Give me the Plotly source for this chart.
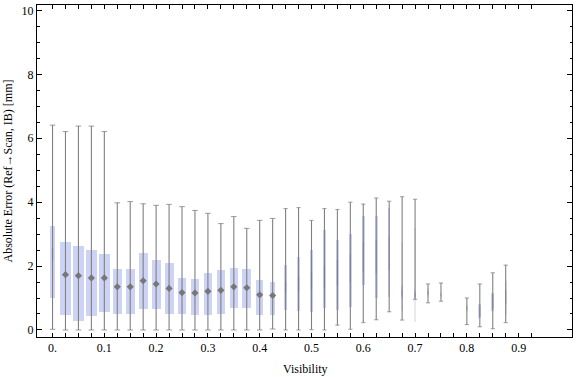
import plotly.graph_objects as go

# ---- data ----
visibility = [0.000, 0.025, 0.050, 0.075, 0.100, 0.125, 0.150, 0.175, 0.200, 0.225,
              0.250, 0.275, 0.300, 0.325, 0.350, 0.375, 0.400, 0.425, 0.450, 0.475,
              0.500, 0.525, 0.550, 0.575, 0.600, 0.625, 0.650, 0.675, 0.700, 0.725,
              0.750, 0.800, 0.825, 0.850, 0.875]
whisker_low = [0.02, 0.00, 0.00, 0.00, 0.00, 0.00, 0.00, 0.00, 0.00, 0.00,
               0.00, 0.00, 0.00, 0.00, 0.00, 0.00, 0.00, 0.03, 0.00, 0.00,
               0.01, 0.00, 0.15, 0.02, 0.23, 0.32, 0.57, 0.31, 0.96, 0.85,
               0.90, 0.17, 0.10, 0.04, 0.23]
q1 = [1.01, 0.48, 0.29, 0.45, 0.57, 0.49, 0.51, 0.66, 0.66, 0.51,
      0.51, 0.48, 0.48, 0.51, 0.70, 0.70, 0.48, 0.48, 0.63, 0.60,
      0.55, 0.70, 0.63, 0.73, 1.42, 1.01, 1.04, 0.97, 0.97, 1.02,
      0.99, 0.57, 0.36, 0.60, 0.47]
median = [2.37, 1.73, 1.70, 1.63, 1.63, 1.35, 1.35, 1.54, 1.44, 1.30,
          1.17, 1.16, 1.21, 1.24, 1.35, 1.32, 1.10, 1.08, 1.35, 1.44,
          1.54, 1.67, 1.80, 1.93, 2.29, 2.29, 2.40, 1.17, 1.10, 1.16,
          1.10, 0.68, 0.60, 0.88, 1.04]
q3 = [3.25, 2.75, 2.63, 2.50, 2.37, 1.91, 1.91, 2.41, 2.19, 2.09,
      1.63, 1.59, 1.78, 1.88, 1.94, 1.91, 1.56, 1.50, 2.03, 2.28,
      2.50, 3.13, 2.83, 3.00, 3.58, 3.56, 3.82, 1.38, 1.25, 1.30,
      1.20, 0.78, 0.81, 1.17, 1.53]
whisker_high = [6.41, 6.21, 6.38, 6.38, 6.21, 3.98, 4.02, 3.95, 3.90, 3.93,
                3.86, 3.74, 3.65, 3.33, 3.55, 3.18, 3.43, 3.49, 3.80, 3.83,
                3.43, 3.80, 3.77, 4.00, 3.94, 4.13, 4.03, 4.17, 4.09, 1.44,
                1.47, 1.00, 1.44, 1.79, 2.03]
# faint (ghost) ranges seen behind two bins
ghost_vis = [0.675, 0.700]
ghost_low = [0.60, 0.24]
ghost_high = [2.75, 3.20]

major_ticks = [0.0, 0.1, 0.2, 0.3, 0.4, 0.5, 0.6, 0.7, 0.8, 0.9]
major_labels = ["0.", "0.1", "0.2", "0.3", "0.4", "0.5", "0.6", "0.7", "0.8", "0.9"]

# ---- styles ----
PX = 1.0 / 518.0  # data units per pixel along x
box_px = [5.3, 11, 11, 11, 11, 9, 9, 9, 9, 9,
          8, 8, 8, 8, 8, 9, 7, 5, 3.5, 3.5,
          3.5, 3.5, 2.6, 2.6, 2.6, 2.6, 2.6, 2.4, 2.4, 2.4,
          2.4, 2.4, 3.3, 3.3, 2.4]
box_alpha = [1] * 29 + [0.45, 0.28, 0.3, 0.9, 1.0, 0.55]
streak_len = {0: 9, 18: 8, 19: 10, 20: 12, 21: 16, 22: 18, 23: 20, 24: 22, 25: 24,
              26: 24, 27: 4, 28: 3, 29: 3, 30: 2, 31: 3, 32: 8, 33: 10, 34: 10}
BLUE = (205, 211, 245)
GRAY = "#808080"
FONT = "Liberation Serif"

widths = [w * PX for w in box_px]
colors = ["rgba(%d,%d,%d,%.2f)" % (BLUE + (a,)) for a in box_alpha]

fig = go.Figure()

# ghost boxes
fig.add_trace(go.Bar(x=ghost_vis, y=[h - l for l, h in zip(ghost_low, ghost_high)], base=ghost_low,
                     width=[2 * PX] * len(ghost_vis), marker=dict(color="rgba(225,225,228,0.7)", line_width=0),
                     hoverinfo="skip", showlegend=False))

# whisker lines (continuous low -> high)
wx, wy = [], []
for v, lo, hi in zip(visibility, whisker_low, whisker_high):
    wx += [v, v, None]
    wy += [lo, hi, None]
fig.add_trace(go.Scatter(x=wx, y=wy, mode="lines", line=dict(color=GRAY, width=1.1),
                         hoverinfo="skip", showlegend=False))

# boxes
fig.add_trace(go.Bar(x=visibility, y=[b - a for a, b in zip(q1, q3)], base=q1,
                     width=widths, marker=dict(color=colors, line_width=0),
                     showlegend=False))

# caps
cap_sizes = [4 if w >= 5 else 3 for w in box_px]
fig.add_trace(go.Scatter(x=visibility + visibility, y=whisker_low + whisker_high, mode="markers",
                         marker=dict(symbol="line-ew", size=cap_sizes + cap_sizes,
                                     line=dict(color=GRAY, width=1.1)),
                         hoverinfo="skip", showlegend=False))

# medians: diamonds for wide boxes, soft vertical streaks for narrow ones
dx, dy, sx, sy, ss = [], [], [], [], []
for k, (v, m) in enumerate(zip(visibility, median)):
    if k in streak_len:
        sx.append(v); sy.append(m); ss.append(streak_len[k])
    else:
        dx.append(v); dy.append(m)
fig.add_trace(go.Scatter(x=sx, y=sy, mode="markers",
                         marker=dict(symbol="line-ns", size=ss, line=dict(color="rgba(110,110,125,0.45)", width=1.4)),
                         hoverinfo="skip", showlegend=False))
fig.add_trace(go.Scatter(x=dx, y=dy, mode="markers",
                         marker=dict(symbol="diamond", size=5.5, color="#777777", line_width=0),
                         showlegend=False))

tickvals = [round(0.025 * i, 3) for i in range(38)]
ticktext = []
for t in tickvals:
    lab = ""
    for mv, ml in zip(major_ticks, major_labels):
        if abs(mv - t) < 1e-9:
            lab = ml
    ticktext.append(lab)

fig.update_layout(
    width=576, height=377,
    margin=dict(l=37, r=4, t=5, b=40),
    plot_bgcolor="white", paper_bgcolor="white",
    barmode="overlay", bargap=0,
    font=dict(family=FONT, size=12, color="black"),
    xaxis=dict(range=[-0.03, 1.003], showgrid=False, zeroline=False,
               showline=True, linecolor="black", linewidth=1, mirror="ticks",
               ticks="inside", ticklen=4, tickwidth=1, tickcolor="black",
               tickvals=tickvals, ticktext=ticktext,
               tickfont=dict(family=FONT, size=12)),
    yaxis=dict(range=[-0.22, 10.17], showgrid=False, zeroline=False,
               showline=True, linecolor="black", linewidth=1, mirror="ticks",
               ticks="inside", ticklen=5, tickwidth=1, tickcolor="black",
               tickvals=[0, 2, 4, 6, 8, 10],
               minor=dict(dtick=0.5, ticks="inside", ticklen=2.5, tickcolor="black", showgrid=False),
               tickfont=dict(family=FONT, size=12)),
    annotations=[
        dict(text="Visibility", xref="paper", yref="paper", x=0.501, y=-0.0964,
             xanchor="center", yanchor="middle", showarrow=False, font=dict(family=FONT, size=12)),
        dict(text="Absolute Error (Ref\u2192Scan, IB) [mm]", xref="paper", yref="paper",
             x=-0.0533, y=0.5, xanchor="center", yanchor="middle", textangle=-90,
             showarrow=False, font=dict(family=FONT, size=12)),
    ],
)

fig.write_html("out.html", config={"displayModeBar": False},
               post_script="document.body.style.margin='0';document.body.style.padding='0';")
